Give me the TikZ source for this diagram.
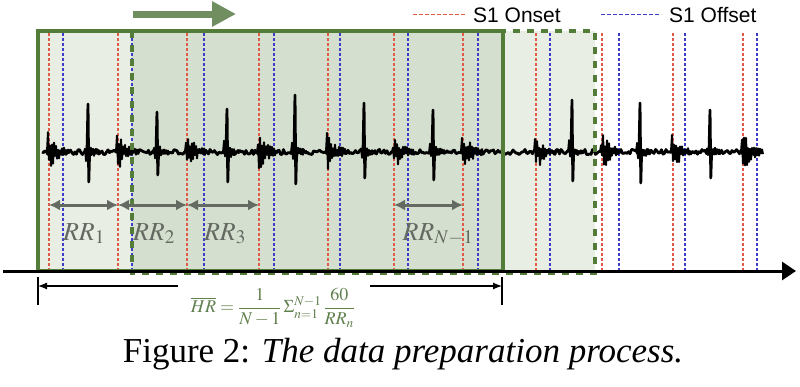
\documentclass[tikz,border=0pt]{standalone}
\usepackage{mathptmx}
\usepackage{fontspec}
\setmainfont{Liberation Serif}
\newfontfamily\legendfont{Liberation Sans}
\usetikzlibrary{arrows.meta}

\definecolor{winGreen}{RGB}{82,124,56}
\definecolor{arrGreen}{RGB}{112,142,96}
\definecolor{hrGreen}{RGB}{96,128,78}
\definecolor{rrGray}{RGB}{100,106,98}
\definecolor{onsetRed}{RGB}{225,90,70}
\definecolor{offsetBlue}{RGB}{60,60,200}

\tikzset{
  onset/.style={onsetRed, line width=1.1pt, dash pattern=on 3pt off 2pt},
  offset/.style={offsetBlue, line width=1.1pt, dash pattern=on 3pt off 2pt},
  sig/.style={black, line width=2.8pt, line join=round},
  rrarrow/.style={rrGray, line width=3pt, {Latex[length=11pt,width=11pt]}-{Latex[length=11pt,width=11pt]}},
  rrlabel/.style={rrGray, anchor=base, font=\fontsize{26}{30}\selectfont},
  win/.style={winGreen, line width=3.5pt},
  nextwin/.style={winGreen, line width=4pt, dash pattern=on 7pt off 7pt},
  winfill/.style={fill=winGreen, fill opacity=0.13},
}

\begin{document}
\begin{tikzpicture}[x=1pt,y=-1pt]
    \useasboundingbox (0,0) rectangle (800,386);
    % the two windows
    \fill[winfill] (38,31) rectangle (503,271);
    \fill[winfill] (132,31) rectangle (595,271);
    % S1 onset / offset markers
    \foreach \x [count=\i] in {49,118,187,259,328,394,463,536,602,673,743}{
        \draw[onset] (\x,33) -- (\x,271);
        \coordinate (on\i) at (\x,205);
    }
    \foreach \x in {63,132,204,274,340,408,478,550,619,685,757}
        \draw[offset] (\x,33) -- (\x,271);
    % heart sound signal
    \pgfmathsetseed{7}
    \draw[sig] (42,152) \foreach \x in {43.5,45,...,760}{ -- (\x,{152+2.6*rand}) };
    \foreach \x in {49,118,187,259,328,394,463,536,602,673,743}
        \draw[sig, line width=2pt] (\x-2,152) \foreach \k in {1,...,22}{ -- ({\x-2+\k},{152+(1-2*mod(\k,2))*(4+20*rnd)*exp(-\k/10)}) };
    \foreach \s/\t/\b in {88/104/182,157/112/175,227/109/182,295/95/184,364/103/178,433/110/180,572/100/181,640/103/183,710/110/178}{
        \draw[sig, line width=1.8pt] (\s-4,152) \foreach \k in {1,...,16}{ -- ({\s-4+\k},{152+(1-2*mod(\k,2))*(3+11*rnd)*exp(-\k/8)}) };
        \draw[sig, line width=2.8pt] (\s-1,152) -- (\s,\t) -- (\s+0.8,\b) -- (\s+1.6,152);
    }
    % window frames
    \draw[nextwin] (132,31) rectangle (595,273);
    \draw[win] (38,31) rectangle (503,271);
    % sliding direction
    \coordinate (slideA) at (133,14);
    \coordinate (slideB) at (236,14);
    \draw[arrGreen, line width=7pt, -{Triangle[length=24pt,width=24pt]}] (slideA) -- (slideB);
    % legend
    \node[anchor=base west, inner sep=0, font=\legendfont\fontsize{21}{25}\selectfont] (onsetkey) at (473,22) {S1 Onset};
    \node[anchor=base west, inner sep=0, font=\legendfont\fontsize{21}{25}\selectfont] (offsetkey) at (669,22) {S1 Offset};
    \draw[onset, dash pattern=on 4pt off 2pt] ([xshift=-60pt]onsetkey.west) -- ([xshift=-8pt]onsetkey.west);
    \draw[offset, dash pattern=on 4pt off 2pt] ([xshift=-68pt]offsetkey.west) -- ([xshift=-8pt]offsetkey.west);
    % RR intervals
    \draw[rrarrow] (on1) -- (on2);
    \draw[rrarrow] (on2) -- (on3);
    \draw[rrarrow] (on3) -- (on4);
    \draw[rrarrow] (on6) -- (on7);
    \node[rrlabel] (rr1) at (84,240) {$RR_1$};
    \node[rrlabel] (rr2) at (154,240) {$RR_2$};
    \node[rrlabel] (rr3) at (225,240) {$RR_3$};
    \node[rrlabel] (rrN) at (438,240) {$RR_{N-1}$};
    % time axis
    \coordinate (axisStart) at (3,271);
    \coordinate (axisEnd) at (796,271);
    \draw[line width=3pt, -{Triangle[length=14pt,width=18pt]}] (axisStart) -- (axisEnd);
    % mean heart rate over the window
    \coordinate (spanL) at (38,286);
    \coordinate (spanR) at (502,286);
    \draw[line width=1.2pt] (38,277) -- (38,305);
    \draw[line width=1.2pt] (502,277) -- (502,305);
    \node[hrGreen, inner sep=1pt, font=\fontsize{18}{22}\selectfont] (hr) at (273,308) {$\displaystyle\overline{HR}=\frac{1}{N-1}\,\Sigma_{n=1}^{N-1}\,\frac{60}{RR_n}$};
    \draw[line width=1.2pt, -{Latex[length=9pt,width=7pt]}] ([xshift=-12pt]hr.west |- spanL) -- (spanL);
    \draw[line width=1.2pt, -{Latex[length=9pt,width=7pt]}] ([xshift=14pt]hr.east |- spanR) -- (spanR);
    % caption
    \node[anchor=base, inner sep=0, font=\fontsize{35}{40}\selectfont] (caption) at (403,362) {Figure 2: \textit{The data preparation process.}};
\end{tikzpicture}
\end{document}
